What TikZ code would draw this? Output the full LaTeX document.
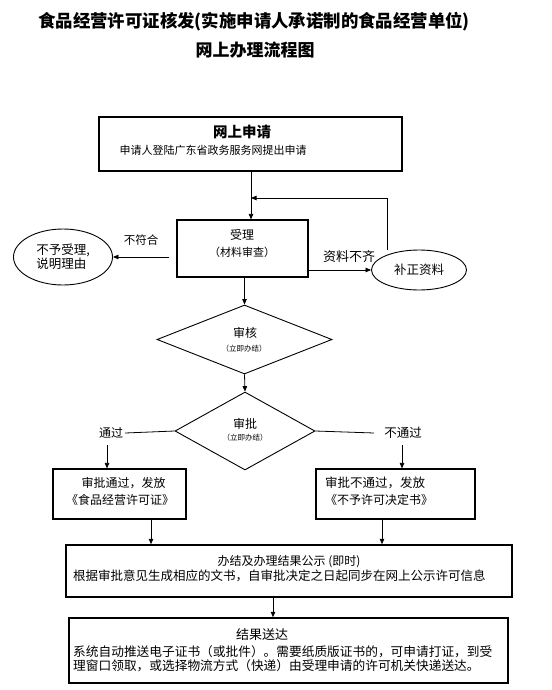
\documentclass[tikz,border=0pt]{standalone}
\usepackage{fontspec}
\setmainfont{Noto Sans CJK SC}
\usetikzlibrary{shapes.geometric,arrows.meta}
\begin{document}
\begin{tikzpicture}[x=1pt,y=-1pt,
  box/.style={draw,line width=1.2pt,rectangle,inner sep=0pt},
  oval/.style={draw,line width=0.9pt,ellipse,inner sep=0pt,align=left,font=\fontsize{12.5}{14}\selectfont},
  dia/.style={draw,line width=0.9pt,diamond,inner sep=0pt},
  arr/.style={-{Triangle[length=5.5pt,width=4.5pt]},line width=0.8pt},
  ln/.style={line width=0.8pt},
  txt/.style={inner sep=0pt,font=\fontsize{12}{14}\selectfont},
  big/.style={inner sep=0pt,font=\fontsize{12.7}{15}\selectfont}]
\useasboundingbox[fill=white] (0,0) rectangle (551,690);
% title
\node[inner sep=0pt,font=\fontsize{17.4}{19}\selectfont\bfseries] (title1) at (254,22) {食品经营许可证核发(实施申请人承诺制的食品经营单位)};
\node[inner sep=0pt,font=\fontsize{17}{19}\selectfont\bfseries] (title2) at (255,50) {网上办理流程图};
% boxes
\node[box,minimum width=303pt,minimum height=54pt] (apply) at (250.5,144) {};
\node[inner sep=0pt,font=\fontsize{14.5}{16}\selectfont\bfseries] (applyt) at (242,132) {网上申请};
\node[inner sep=0pt,font=\fontsize{11}{13}\selectfont] (applys) at (213,150) {申请人登陆广东省政务服务网提出申请};
\node[box,minimum width=131pt,minimum height=57pt] (accept) at (242.5,248.5) {};
\node[txt] (acceptt) at (242,235) {受理};
\node[txt,font=\fontsize{11}{13}\selectfont] (accepts) at (242,252) {（材料审查）};
\node[oval,minimum width=99pt,minimum height=56pt] (reject) at (63,257) {不予受理,\\说明理由};
\node[oval,minimum width=95pt,minimum height=40pt] (supp) at (419,270) {补正资料};
\node[txt,font=\fontsize{11.5}{13}\selectfont] (nofit) at (141,240) {不符合};
\node[txt,font=\fontsize{13}{15}\selectfont] (lack) at (349,257) {资料不齐};
\node[dia,minimum width=175pt,minimum height=69pt] (review) at (244.5,339.5) {};
\node[txt] (reviewt) at (245,333) {审核};
\node[inner sep=0pt,font=\fontsize{7.5}{9}\selectfont] (reviews) at (244,349) {（立即办结）};
\node[dia,minimum width=140pt,minimum height=78pt] (approve) at (245,431) {};
\node[txt] (approvet) at (245,424) {审批};
\node[inner sep=0pt,font=\fontsize{7.5}{9}\selectfont] (approves) at (245,438) {（立即办结）};
\node[txt] (lp) at (111,433) {通过};
\node[txt,font=\fontsize{12.5}{14}\selectfont] (rp) at (403,433) {不通过};
\node[box,minimum width=133pt,minimum height=50pt] (passbox) at (119.5,494) {};
\node[txt] (pass1) at (123.5,483) {审批通过，发放};
\node[txt] (pass2) at (120,500) {《食品经营许可证》};
\node[box,minimum width=159pt,minimum height=50pt] (failbox) at (395.5,494) {};
\node[txt,anchor=west,font=\fontsize{12.5}{14}\selectfont] (fail1) at (325,483) {审批不通过，发放};
\node[txt,anchor=west] (fail2) at (325,500) {《不予许可决定书》};
\node[box,line width=1.5pt,minimum width=446pt,minimum height=52pt] (done) at (289,571) {};
\node[txt] (done1) at (289,562) {办结及办理结果公示 (即时)};
\node[big,anchor=west,font=\fontsize{12.5}{15}\selectfont] (done2) at (73,576) {根据审批意见生成相应的文书，自审批决定之日起同步在网上公示许可信息};
\node[box,line width=1.5pt,minimum width=439pt,minimum height=65pt] (deliver) at (288.5,650.5) {};
\node[big,font=\fontsize{13}{15}\selectfont] (del1) at (262,635) {结果送达};
\node[big,anchor=west] (del2) at (73,652) {系统自动推送电子证书（或批件）。需要纸质版证书的，可申请打证，到受};
\node[big,anchor=west] (del3) at (73,666) {理窗口领取，或选择物流方式（快递）由受理申请的许可机关快递送达。};
% connectors
\coordinate (c1) at (251,198);
\coordinate (fbx) at (387,198);
\draw[arr] (apply.south -| c1) -- (accept.north -| c1);
\draw[arr] (supp.north -| fbx) -- (fbx) -- (c1);
\draw[arr] ([xshift=-7pt]accept.west |- reject.east) -- (reject.east);
\draw[arr] (accept.east |- supp.west) -- (supp.west);
\draw[arr] (accept.south -| review.north) -- (review.north);
\draw[arr] (review.south) -- (approve.north);
\draw[ln] (approve.west) -- ([xshift=2pt]lp.east);
\draw[ln] (approve.east) -- ([xshift=-10pt]rp.west);
\coordinate (la) at (107,445);
\coordinate (ra) at (402,445);
\draw[arr] (la) -- (la |- passbox.north);
\draw[arr] (ra) -- (ra |- failbox.north);
\coordinate (a1) at (151,0);
\coordinate (a2) at (382,0);
\coordinate (a3) at (273,0);
\draw[arr] (passbox.south -| a1) -- (done.north -| a1);
\draw[arr] (failbox.south -| a2) -- (done.north -| a2);
\draw[arr] (done.south -| a3) -- (deliver.north -| a3);
\end{tikzpicture}
\end{document}
